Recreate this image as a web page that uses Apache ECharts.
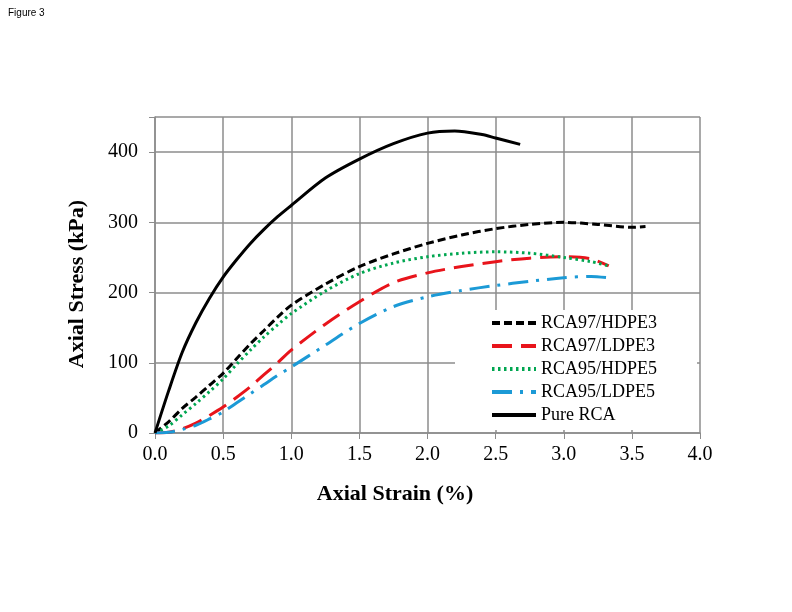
<!DOCTYPE html>
<html>
<head>
<meta charset="utf-8">
<script src="https://cdn.jsdelivr.net/npm/echarts@6/dist/echarts.min.js"></script>
<style>
  html, body { margin: 0; padding: 0; background: #fff; }
  #chart { width: 792px; height: 612px; }
</style>
</head>
<body>
<div id="chart"></div>
<script>
// strain (%) and stress (kPa)
const pureStrain = [0, 0.1, 0.2, 0.3, 0.4, 0.5, 0.6, 0.7, 0.8, 0.9, 1.0, 1.25, 1.5, 1.75, 2.0, 2.2, 2.4, 2.5, 2.68]
const pureStress = [0, 60, 115, 157, 192, 222, 247, 270, 290, 308, 324, 363, 390, 412, 427, 430, 425, 420, 411]

const hd3Strain = [0, 0.1, 0.2, 0.3, 0.4, 0.5, 0.6, 0.7, 0.8, 0.9, 1.0, 1.25, 1.5, 1.75, 2.0, 2.25, 2.5, 2.75, 3.0, 3.25, 3.5, 3.6]
const hd3Stress = [0, 16, 35, 51, 68, 85, 106, 127, 146, 165, 182, 212, 237, 255, 270, 282, 291, 297, 300, 297, 293, 294]

const ld3Strain = [0, 0.1, 0.2, 0.3, 0.4, 0.5, 0.6, 0.7, 0.8, 0.9, 1.0, 1.25, 1.5, 1.75, 2.0, 2.25, 2.5, 2.75, 3.0, 3.2, 3.33]
const ld3Stress = [0, 1, 6, 14, 25, 37, 51, 66, 83, 100, 118, 155, 187, 214, 228, 237, 244, 249, 251, 248, 238]

const hd5Strain = [0, 0.1, 0.2, 0.3, 0.4, 0.5, 0.6, 0.7, 0.8, 0.9, 1.0, 1.25, 1.5, 1.75, 2.0, 2.25, 2.5, 2.75, 3.0, 3.2, 3.33]
const hd5Stress = [0, 10, 26, 42, 59, 77, 98, 118, 137, 154, 170, 202, 227, 242, 251, 256, 258, 256, 250, 244, 238]

const ld5Strain = [0, 0.1, 0.2, 0.3, 0.4, 0.5, 0.6, 0.7, 0.8, 0.9, 1.0, 1.25, 1.5, 1.75, 2.0, 2.25, 2.5, 2.75, 3.0, 3.2, 3.33]
const ld5Stress = [0, 1, 5, 11, 20, 30, 43, 56, 69, 82, 94, 125, 156, 180, 194, 203, 210, 216, 221, 223, 221]

const seriesNames = ['RCA97/HDPE3', 'RCA97/LDPE3', 'RCA95/HDPE5', 'RCA95/LDPE5', 'Pure RCA']

const pairs = (xs, ys) => xs.map((x, i) => [x, ys[i]])
const serif = '"Liberation Serif", "DejaVu Serif", serif'

const chart = echarts.init(document.getElementById('chart'))

const line = (name, data, color, type) => ({
  name: name,
  type: 'line',
  data: data,
  smooth: 0.3,
  symbol: 'none',
  lineStyle: { color: color, width: 3, type: type },
  itemStyle: { color: color }
})

chart.setOption({
  backgroundColor: '#fff',
  animation: false,
  grid: { left: 155, right: 92, top: 117, bottom: 179, containLabel: false },
  xAxis: {
    type: 'value',
    min: 0, max: 4, interval: 0.5,
    axisLine: { show: true, lineStyle: { color: '#8c8c8c', width: 1.5 } },
    axisTick: { show: true, inside: false, length: 6, lineStyle: { color: '#8c8c8c' } },
    splitLine: { show: true, lineStyle: { color: '#8c8c8c', width: 1.5 } },
    axisLabel: { color: '#000', fontFamily: serif, fontSize: 20, margin: 12,
      formatter: v => v.toFixed(1) }
  },
  yAxis: {
    type: 'value',
    min: 0, max: 450, interval: 100,
    axisLine: { show: true, lineStyle: { color: '#8c8c8c', width: 1.5 } },
    axisTick: { show: true, inside: false, length: 6, lineStyle: { color: '#8c8c8c' } },
    splitLine: { show: true, lineStyle: { color: '#8c8c8c', width: 1.5 } },
    axisLabel: { color: '#000', fontFamily: serif, fontSize: 20, margin: 17,
      formatter: v => (v % 100 === 0 ? String(v) : '') }
  },
  legend: {
    data: seriesNames,
    orient: 'vertical',
    left: 455,
    top: 310,
    backgroundColor: '#fff',
    padding: [4, 40, 6, 35],
    itemWidth: 44,
    itemHeight: 12,
    itemGap: 5,
    itemStyle: { opacity: 0 },
    lineStyle: { width: 4 },
    textStyle: { color: '#000', fontFamily: serif, fontSize: 18 },
    z: 10
  },
  graphic: [
    { type: 'text', left: 8, top: 8,
      style: { text: 'Figure 3', fontFamily: '"Liberation Sans", Arial, sans-serif', fontSize: 10, fill: '#000' } },
    { type: 'text', x: 395, y: 494,
      style: { text: 'Axial Strain (%)', fontFamily: serif, fontSize: 22, fontWeight: 'bold', fill: '#000',
        align: 'center', verticalAlign: 'middle' } },
    { type: 'text', x: 77, y: 284, rotation: Math.PI / 2,
      style: { text: 'Axial Stress (kPa)', fontFamily: serif, fontSize: 22, fontWeight: 'bold', fill: '#000',
        align: 'center', verticalAlign: 'middle' } }
  ],
  series: [
    line(seriesNames[0], pairs(hd3Strain, hd3Stress), '#000000', [8, 4]),
    line(seriesNames[1], pairs(ld3Strain, ld3Stress), '#e8141b', [20, 9]),
    line(seriesNames[2], pairs(hd5Strain, hd5Stress), '#00a650', [2.5, 3.5]),
    line(seriesNames[3], pairs(ld5Strain, ld5Stress), '#1c9ad6', [20, 8, 3, 8]),
    line(seriesNames[4], pairs(pureStrain, pureStress), '#000000', 'solid')
  ]
})
</script>
</body>
</html>
